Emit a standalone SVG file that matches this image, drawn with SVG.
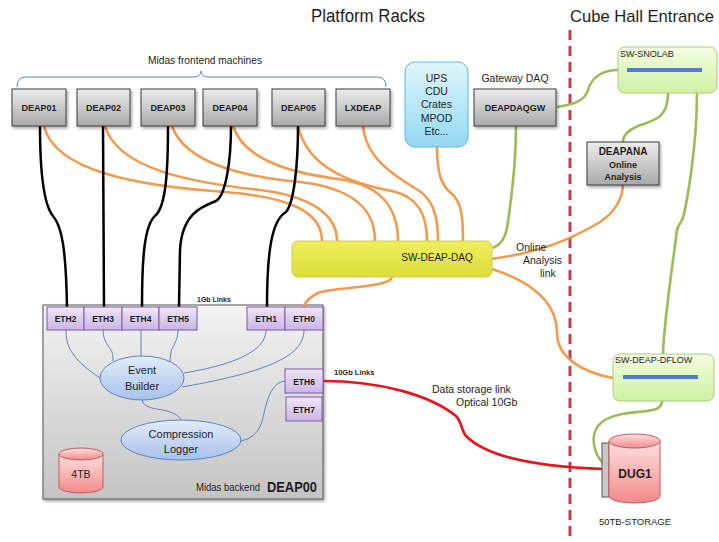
<svg xmlns="http://www.w3.org/2000/svg" width="719" height="542" viewBox="0 0 719 542">
<defs>
<linearGradient id="gGray" x1="0" y1="0" x2="0" y2="1"><stop offset="0" stop-color="#ececec"/><stop offset="1" stop-color="#a9a9a9"/></linearGradient>
<linearGradient id="gBig" x1="0" y1="0" x2="0" y2="1"><stop offset="0" stop-color="#f2f2f2"/><stop offset="1" stop-color="#c4c4c4"/></linearGradient>
<linearGradient id="gEth" x1="0" y1="0" x2="0" y2="1"><stop offset="0" stop-color="#f0e6f8"/><stop offset="1" stop-color="#cbb4e2"/></linearGradient>
<linearGradient id="gYel" x1="0" y1="0" x2="0" y2="1"><stop offset="0" stop-color="#eeee5c"/><stop offset="1" stop-color="#dcdc3c"/></linearGradient>
<linearGradient id="gGrn" x1="0" y1="0" x2="0" y2="1"><stop offset="0" stop-color="#f4fde0"/><stop offset="1" stop-color="#cdf1a0"/></linearGradient>
<linearGradient id="gBlu" x1="0" y1="0" x2="0" y2="1"><stop offset="0" stop-color="#e0f6fd"/><stop offset="1" stop-color="#92d8f2"/></linearGradient>
<linearGradient id="gEll" x1="0" y1="0" x2="0" y2="1"><stop offset="0" stop-color="#e2ecfa"/><stop offset="1" stop-color="#a6c2ec"/></linearGradient>
<linearGradient id="gPink" x1="0" y1="0" x2="0" y2="1"><stop offset="0" stop-color="#fde0e0"/><stop offset="1" stop-color="#f28a8a"/></linearGradient>
<filter id="sh" x="-10%" y="-10%" width="130%" height="140%"><feDropShadow dx="1.5" dy="2" stdDeviation="1.5" flood-color="#000" flood-opacity="0.35"/></filter>
</defs>
<style>
text{font-family:"Liberation Sans",Arial,sans-serif;fill:#1e1e1e}
.b{font-weight:bold}
.mach{fill:url(#gGray);stroke:#3c3c3c;stroke-width:1;filter:url(#sh)}
.eth{fill:url(#gEth);stroke:#7a5aa6;stroke-width:1}
.ell{fill:url(#gEll);stroke:#5b84c4;stroke-width:1}
.cyl{fill:url(#gPink);stroke:#c25a5a;stroke-width:1}
.or{fill:none;stroke:#f29a4e;stroke-width:2.6}
.gr{fill:none;stroke:#9bbb59;stroke-width:2.6}
.bk{fill:none;stroke:#000;stroke-width:2.5}
.bl{fill:none;stroke:#5b84c4;stroke-width:1}
.rd{fill:none;stroke:#e8141c;stroke-width:2.6}
.bar{fill:#4f7fc0}
</style>
<rect width="719" height="542" fill="#fff"/>

<g id="titles">
<text x="368" y="22" font-size="18" text-anchor="middle" textLength="114" lengthAdjust="spacingAndGlyphs">Platform Racks</text>
<text x="570" y="22" font-size="17" textLength="144" lengthAdjust="spacingAndGlyphs">Cube Hall Entrance</text>
</g>
<line x1="570" y1="30" x2="570" y2="542" stroke="#c0404f" stroke-width="3" stroke-dasharray="10 6"/>

<g id="brace">
<path class="bl" d="M17,87 Q17,77 26,77 L193,77 Q201,77 201,71 Q201,77 209,77 L377,77 Q386,77 386,87"/>
<text x="205" y="64" font-size="11" text-anchor="middle" textLength="114" lengthAdjust="spacingAndGlyphs">Midas frontend machines</text>
</g>

<g id="deap00">
<rect x="43" y="305" width="280" height="194" fill="url(#gBig)" stroke="#555" stroke-width="1" filter="url(#sh)"/>
<text x="196" y="491" font-size="10" textLength="64" lengthAdjust="spacingAndGlyphs">Midas backend</text>
<text x="267" y="492" font-size="14" class="b" textLength="50" lengthAdjust="spacingAndGlyphs">DEAP00</text>
</g>

<g id="connectors">
<path class="or" d="M44,126 C55,172 140,186 225,192 C290,197 322,212 322,241"/>
<path class="or" d="M105,126 C118,170 195,183 260,190 C310,196 337,214 337,241"/>
<path class="or" d="M172,126 C185,163 245,177 300,182 C352,188 375,208 375,241"/>
<path class="or" d="M233,126 C245,163 300,174 338,179 C382,185 398,208 398,241"/>
<path class="or" d="M298,126 C308,170 355,184 392,191 C418,197 427,214 427,241"/>
<path class="or" d="M363,126 C366,160 398,178 418,190 C434,200 438,218 438,241"/>
<path class="or" d="M437,147 C437,175 442,186 452,194 C462,202 463,220 463,241"/>
<path class="or" d="M392,277 C390,288 332,287 318,293 C308,298 305,302 304,307"/>
<path class="or" d="M492,259 C540,252 570,240 600,222 C615,212 622,200 623,185"/>
<path class="or" d="M492,269 C538,284 557,306 557,333 C557,356 580,372 613,378"/>
<path class="bk" d="M40,126 C40,170 44,205 53,216 C62,226 66,250 67,307"/>
<path class="bk" d="M103,126 L104,307"/>
<path class="bk" d="M168,126 C168,170 166,205 156,215 C144,224 142,260 142,307"/>
<path class="bk" d="M231,126 C231,160 226,195 216,201 C200,207 182,215 180,250 L179,307"/>
<path class="bk" d="M298,126 C298,165 294,203 286,212 C272,220 267,250 267,307"/>
<path class="gr" d="M516,126 C516,170 509,215 507,228 C505,240 500,245 493,248"/>
<path class="gr" d="M557,107 C576,104 585,100 588,90 C592,76 604,70 618,70"/>
<path class="gr" d="M668,93 C668,118 655,120 638,126 C626,131 623,137 623,142"/>
<path class="gr" d="M697,93 C697,150 686,205 684,214 C683,222 678,224 677,230 C672,270 664,320 663,354"/>
<path class="gr" d="M662,401 C662,412 648,410 622,414 C596,419 592,432 594,445 C596,455 600,460 603,463"/>
<path class="rd" d="M323,381 C380,381 430,395 456,416 C462,422 461,430 466,436 C488,458 540,467 604,469"/>
<path class="bl" d="M66,330 C66,345 70,358 100,378"/>
<path class="bl" d="M103,330 C103,342 110,347 112,352 C113,356 113,358 113,361"/>
<path class="bl" d="M141,330 L141,356"/>
<path class="bl" d="M178,330 C178,342 172,346 171,352 C170,358 170,362 170,365"/>
<path class="bl" d="M266,330 C266,345 250,362 184,373"/>
<path class="bl" d="M304,330 C304,352 280,370 182,387"/>
<path class="bl" d="M142,400 C144,410 160,408 170,412 C177,414 180,418 181,420"/>
<path class="bl" d="M241,441 C262,436 262,420 266,405 C270,390 276,382 285,381"/>
</g>

<g id="deap01"><rect class="mach" x="12" y="89" width="54" height="37"/><text class="b" x="39" y="111" font-size="9" text-anchor="middle">DEAP01</text></g>
<g id="deap02"><rect class="mach" x="77" y="89" width="53" height="37"/><text class="b" x="103.5" y="111" font-size="9" text-anchor="middle">DEAP02</text></g>
<g id="deap03"><rect class="mach" x="141" y="89" width="54" height="37"/><text class="b" x="168" y="111" font-size="9" text-anchor="middle">DEAP03</text></g>
<g id="deap04"><rect class="mach" x="203" y="89" width="54" height="37"/><text class="b" x="230" y="111" font-size="9" text-anchor="middle">DEAP04</text></g>
<g id="deap05"><rect class="mach" x="272" y="89" width="53" height="37"/><text class="b" x="298.5" y="111" font-size="9" text-anchor="middle">DEAP05</text></g>
<g id="lxdeap"><rect class="mach" x="336" y="89" width="54" height="37"/><text class="b" x="363" y="111" font-size="9" text-anchor="middle">LXDEAP</text></g>

<g id="ups">
<rect x="405" y="62" width="63" height="85" rx="10" fill="url(#gBlu)" stroke="#5ab8e0" stroke-width="1"/>
<g font-size="10.5" text-anchor="middle">
<text x="436.5" y="82">UPS</text><text x="436.5" y="95">CDU</text><text x="436.5" y="108">Crates</text><text x="436.5" y="122">MPOD</text><text x="436.5" y="135">Etc...</text>
</g>
</g>

<g id="deapdaqgw">
<text x="515" y="82" font-size="10.5" text-anchor="middle">Gateway DAQ</text>
<rect class="mach" x="474" y="89" width="82" height="37"/>
<text class="b" x="515" y="111" font-size="9" text-anchor="middle">DEAPDAQGW</text>
</g>

<g id="sw-snolab">
<rect x="618" y="47" width="99" height="46" rx="7" fill="url(#gGrn)" stroke="#a8cc78" stroke-width="1"/>
<text x="620" y="57" font-size="9">SW-SNOLAB</text>
<rect class="bar" x="627" y="68" width="75" height="4"/>
</g>

<g id="deapana">
<rect class="mach" x="587" y="142" width="72" height="43"/>
<g class="b" font-size="10" text-anchor="middle">
<text x="623" y="155">DEAPANA</text><text x="623" y="168" font-size="9">Online</text><text x="623" y="180" font-size="9">Analysis</text>
</g>
</g>

<g id="sw-deap-daq">
<rect x="292" y="241" width="200" height="36" rx="6" fill="url(#gYel)" stroke="#cccc50" stroke-width="1"/>
<text x="437" y="261" font-size="10" text-anchor="middle">SW-DEAP-DAQ</text>
</g>
<g id="analysis-link-label" font-size="10.5">
<text x="516" y="251">Online</text><text x="523" y="264">Analysis</text><text x="540" y="277">link</text>
</g>

<g id="eth2"><rect class="eth" x="47" y="307" width="37" height="23"/><text class="b" x="65.5" y="322" font-size="8.5" text-anchor="middle">ETH2</text></g>
<g id="eth3"><rect class="eth" x="84" y="307" width="38" height="23"/><text class="b" x="103" y="322" font-size="8.5" text-anchor="middle">ETH3</text></g>
<g id="eth4"><rect class="eth" x="122" y="307" width="37" height="23"/><text class="b" x="140.5" y="322" font-size="8.5" text-anchor="middle">ETH4</text></g>
<g id="eth5"><rect class="eth" x="159" y="307" width="38" height="23"/><text class="b" x="178" y="322" font-size="8.5" text-anchor="middle">ETH5</text></g>
<g id="eth1"><rect class="eth" x="247" y="307" width="38" height="23"/><text class="b" x="266" y="322" font-size="8.5" text-anchor="middle">ETH1</text></g>
<g id="eth0"><rect class="eth" x="285" y="307" width="38" height="23"/><text class="b" x="304" y="322" font-size="8.5" text-anchor="middle">ETH0</text></g>
<g id="eth6"><rect class="eth" x="285" y="369" width="38" height="24"/><text class="b" x="304" y="385" font-size="8.5" text-anchor="middle">ETH6</text></g>
<g id="eth7"><rect class="eth" x="286" y="397" width="36" height="24"/><text class="b" x="304" y="413" font-size="8.5" text-anchor="middle">ETH7</text></g>
<text class="b" x="197" y="302" font-size="7">1Gb Links</text>
<text class="b" x="334" y="375" font-size="7.5">10Gb Links</text>

<g id="event-builder">
<ellipse class="ell" cx="142" cy="378" rx="42" ry="22"/>
<text x="142" y="374" font-size="11" text-anchor="middle">Event</text>
<text x="142" y="390" font-size="11" text-anchor="middle">Builder</text>
</g>
<g id="compression-logger">
<ellipse class="ell" cx="181" cy="440" rx="60" ry="20"/>
<text x="181" y="438" font-size="11" text-anchor="middle">Compression</text>
<text x="181" y="453" font-size="11" text-anchor="middle">Logger</text>
</g>
<g id="disk-4tb">
<path class="cyl" d="M59,454 L59,487 A22,6 0 0 0 103,487 L103,454"/>
<ellipse class="cyl" cx="81" cy="454" rx="22" ry="6"/>
<text x="81" y="478" font-size="10.5" text-anchor="middle">4TB</text>
</g>

<g id="storage-link-label" font-size="10.5">
<text x="432" y="393">Data storage link</text>
<text x="456" y="406">Optical 10Gb</text>
</g>

<g id="sw-deap-dflow">
<rect x="613" y="354" width="101" height="47" rx="7" fill="url(#gGrn)" stroke="#a8cc78" stroke-width="1"/>
<text x="615" y="363" font-size="9">SW-DEAP-DFLOW</text>
<rect class="bar" x="623" y="375" width="75" height="4"/>
</g>

<g id="dug1">
<rect x="602" y="443" width="7" height="54" fill="#c8c8c8" stroke="#555" stroke-width="1"/>
<path class="cyl" d="M609,441 L609,496 A25.5,7 0 0 0 660,496 L660,441"/>
<ellipse class="cyl" cx="634.5" cy="441" rx="25.5" ry="7"/>
<text class="b" x="635" y="478" font-size="12" text-anchor="middle">DUG1</text>
<text x="635" y="525" font-size="9.5" text-anchor="middle">50TB-STORAGE</text>
</g>
</svg>
